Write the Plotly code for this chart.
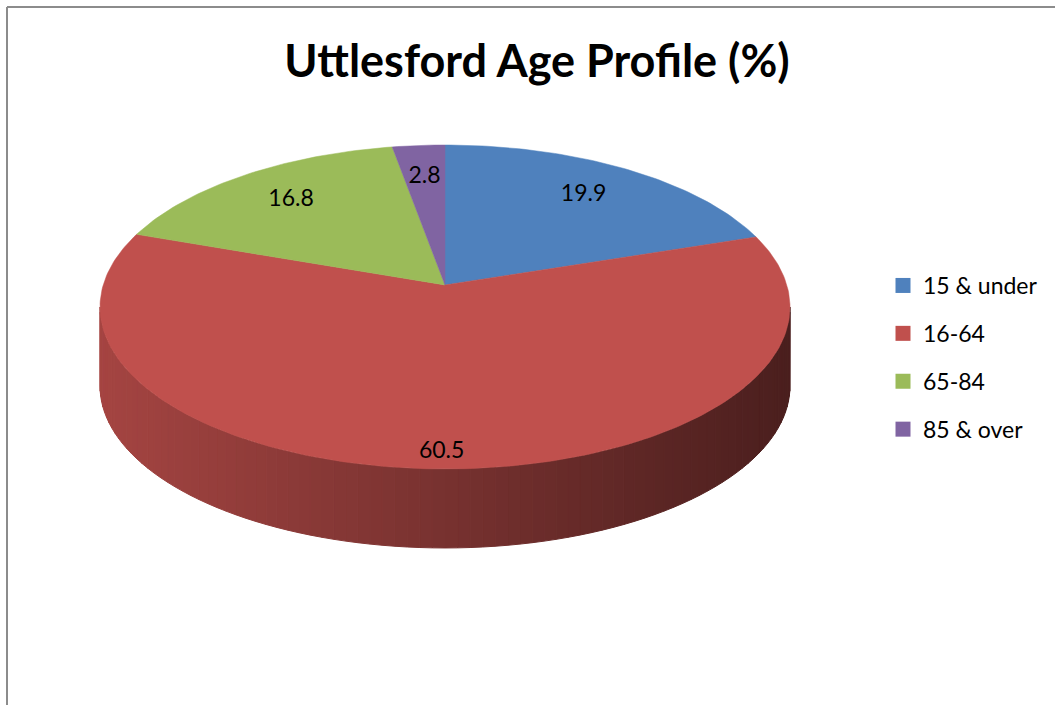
import math
import plotly.graph_objects as go

# ---- data ----
categories = ["15 & under", "16-64", "65-84", "85 & over"]
values = [19.9, 60.5, 16.8, 2.8]
colors = ["#4F81BD", "#C0504D", "#9BBB59", "#8064A2"]
title_text = "Uttlesford Age Profile (%)"

# ---- geometry / style of the pseudo-3D pie ----
CX, CY = 445.0, 285.0      # projected pie centre (pixels)
A, B = 341.8, 159.0        # horizontal / depth radii
K = 0.1357                 # perspective strength
DEPTH = 79.0               # side wall height (pixels)
LABEL_R = [0.75, 0.92, 0.75, 0.75]
SHADE_LIGHT, SHADE_DARK = 0.86, 0.39
FONT = "Lato, Open Sans, sans-serif"


def proj(theta_deg, r=1.0, drop=0.0):
    th = math.radians(theta_deg)
    X, Z = r * math.sin(th), r * math.cos(th)
    w = 1.0 + K * Z
    return CX + A * X / w, CY - B * Z / w + drop


def hex_rgb(h):
    h = h.lstrip("#")
    return tuple(int(h[i:i + 2], 16) for i in (0, 2, 4))


total = sum(values)
starts, ends = [], []
acc = 0.0
for v in values:
    starts.append(acc / total * 360.0)
    acc += v
    ends.append(acc / total * 360.0)


def slice_of(theta):
    for i in range(len(values)):
        if starts[i] <= theta % 360 < ends[i]:
            return i
    return len(values) - 1


fig = go.Figure()

# ---- side wall (front visible portion), shaded strips ----
t0 = math.degrees(math.acos(-K))
t1 = 360.0 - t0
xl, _ = proj(t1)
xr, _ = proj(t0)
NSTRIP = 90
for s in range(NSTRIP):
    a0 = t0 + (t1 - t0) * s / NSTRIP
    a1 = t0 + (t1 - t0) * (s + 1) / NSTRIP
    angs = [a0 + (a1 - a0) * j / 4 for j in range(5)]
    top = [proj(a) for a in angs]
    bot = [proj(a, drop=DEPTH) for a in reversed(angs)]
    pts = top + bot + [top[0]]
    xm = sum(p[0] for p in top) / len(top)
    t = (xm - xl) / (xr - xl)
    f = SHADE_LIGHT + (SHADE_DARK - SHADE_LIGHT) * t
    r, g, b = hex_rgb(colors[slice_of((a0 + a1) / 2)])
    c = f"rgb({int(r * f)},{int(g * f)},{int(b * f)})"
    fig.add_trace(go.Scatter(
        x=[p[0] for p in pts], y=[p[1] for p in pts], mode="lines",
        fill="toself", fillcolor=c, line=dict(color=c, width=1),
        hoverinfo="skip", showlegend=False))

# ---- top face slices ----
for i, cat in enumerate(categories):
    n = max(4, int((ends[i] - starts[i]) / 1.0))
    arc = [proj(starts[i] + (ends[i] - starts[i]) * j / n) for j in range(n + 1)]
    pts = [(CX, CY)] + arc + [(CX, CY)]
    fig.add_trace(go.Scatter(
        x=[p[0] for p in pts], y=[p[1] for p in pts], mode="lines",
        fill="toself", fillcolor=colors[i], line=dict(color=colors[i], width=0.5),
        name=cat, hoverinfo="name", showlegend=False))

# ---- data labels ----
lx, ly, lt = [], [], []
for i, v in enumerate(values):
    mid = (starts[i] + ends[i]) / 2
    x, y = proj(mid, r=LABEL_R[i])
    lx.append(x)
    ly.append(y)
    lt.append(f"{v:.1f}")
fig.add_trace(go.Scatter(x=lx, y=ly, text=lt, mode="text",
                         textfont=dict(size=23, color="black", family=FONT),
                         hoverinfo="skip", showlegend=False))

# ---- legend entries ----
for i, cat in enumerate(categories):
    fig.add_trace(go.Scatter(x=[None], y=[None], mode="markers",
                             marker=dict(symbol="square", size=15, color=colors[i]),
                             name=cat, legendgroup=cat, showlegend=True))

fig.update_layout(
    width=1055, height=705,
    margin=dict(l=0, r=0, t=0, b=0),
    paper_bgcolor="white", plot_bgcolor="white",
    title=dict(text=f"<b>{title_text}</b>", x=0.509, xanchor="center",
               y=1 - 61 / 705, yanchor="middle",
               font=dict(size=45, color="black", family=FONT)),
    xaxis=dict(range=[0, 1055], visible=False, fixedrange=True),
    yaxis=dict(range=[705, 0], visible=False, fixedrange=True),
    legend=dict(x=883 / 1055, y=1 - 264 / 705, xanchor="left", yanchor="top",
                font=dict(size=23, color="black", family=FONT),
                traceorder="grouped", tracegroupgap=15,
                itemwidth=30, bgcolor="rgba(0,0,0,0)"),
    shapes=[
        dict(type="line", xref="paper", yref="paper", x0=7 / 1055, x1=1,
             y0=1 - 7 / 705, y1=1 - 7 / 705, line=dict(color="#8c8c8c", width=2)),
        dict(type="line", xref="paper", yref="paper", x0=7 / 1055, x1=7 / 1055,
             y0=0, y1=1 - 7 / 705, line=dict(color="#8c8c8c", width=2)),
    ],
)

fig.write_html("out.html",
               config={"displayModeBar": False},
               post_script="document.body.style.margin='0px';"
                           "document.body.style.overflow='hidden';")
